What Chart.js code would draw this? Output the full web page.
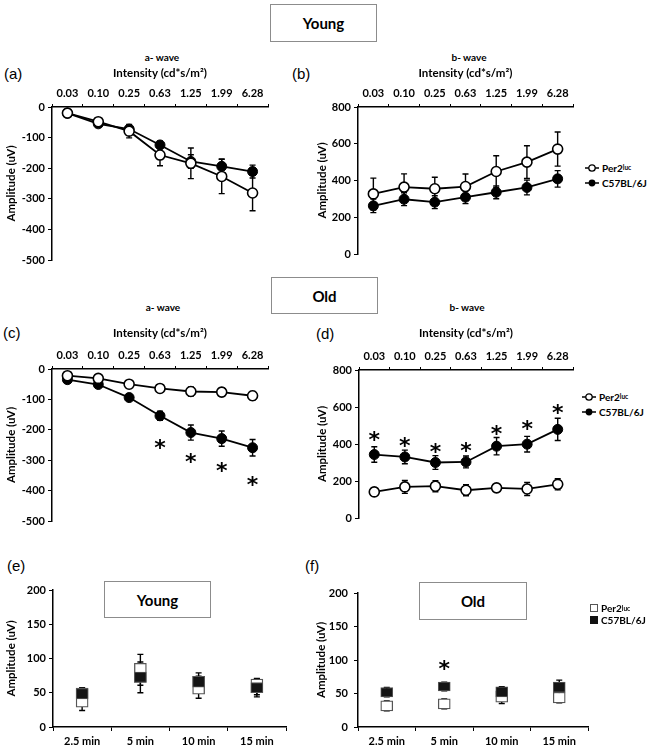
<!DOCTYPE html>
<html>
<head>
<meta charset="utf-8">
<script src="https://cdn.jsdelivr.net/npm/chart.js@4.4.1/dist/chart.umd.min.js"></script>
<style>
body { margin: 0; background: #fff; }
#fig { position: relative; width: 649px; height: 750px; font-family: Lato, sans-serif; color: #000; overflow: hidden; }
canvas { position: absolute; }
.box { position: absolute; border: 1px solid #8c8c8c; background: #fff; display: flex; align-items: center; justify-content: center; font-weight: bold; font-size: 15px; box-sizing: border-box; }
.wave { position: absolute; font-weight: bold; font-size: 10px; transform: translate(-50%, -50%); white-space: nowrap; }
.tag { position: absolute; font-family: 'Liberation Sans', sans-serif; font-size: 15px; transform: translateY(-50%); }
.leg { position: absolute; font-weight: bold; font-size: 10px; }
.leg div { display: flex; align-items: center; height: 15px; white-space: nowrap; }
.leg svg { margin-right: 3px; }
sup { font-size: 6.5px; vertical-align: 4px; }
</style>
</head>
<body>
<div id="fig">
  <div class="box" style="left:270px;top:4px;width:107px;height:38px;">Young</div>
  <div class="box" style="left:271px;top:277px;width:107px;height:37px;">Old</div>

  <div class="wave" style="left:162px;top:57px;">a- wave</div>
  <div class="wave" style="left:469px;top:57px;">b- wave</div>
  <div class="wave" style="left:163px;top:307px;">a- wave</div>
  <div class="wave" style="left:467px;top:307px;">b- wave</div>

  <div class="tag" style="left:4px;top:73px;">(a)</div>
  <div class="tag" style="left:292px;top:73px;">(b)</div>
  <div class="tag" style="left:3px;top:332px;">(c)</div>
  <div class="tag" style="left:316px;top:333px;">(d)</div>
  <div class="tag" style="left:7px;top:565px;">(e)</div>
  <div class="tag" style="left:305px;top:565px;">(f)</div>

  <canvas id="graficoA" width="275" height="210" style="left:0;top:60px;"></canvas>
  <canvas id="graficoB" width="269" height="204" style="left:311px;top:60px;"></canvas>
  <canvas id="graficoC" width="275" height="211" style="left:0;top:320px;"></canvas>
  <canvas id="graficoD" width="269" height="208" style="left:311px;top:320px;"></canvas>
  <canvas id="graficoE" width="294" height="170" style="left:0;top:580px;"></canvas>
  <canvas id="graficoF" width="286" height="170" style="left:310px;top:580px;"></canvas>

  <div class="box" style="left:104px;top:581px;width:107px;height:37px;">Young</div>
  <div class="box" style="left:419px;top:582px;width:108px;height:38px;">Old</div>

  <div class="leg" style="left:585px;top:160px;">
    <div><svg width="14" height="10"><line x1="0" y1="5" x2="14" y2="5" stroke="#000" stroke-width="1.5"/><circle cx="7" cy="5" r="3.2" fill="#fff" stroke="#000" stroke-width="1.3"/></svg>Per2<sup>luc</sup></div>
    <div><svg width="14" height="10"><line x1="0" y1="5" x2="14" y2="5" stroke="#000" stroke-width="1.5"/><circle cx="7" cy="5" r="3.4" fill="#000"/></svg>C57BL/6J</div>
  </div>
  <div class="leg" style="left:582px;top:389px;">
    <div><svg width="14" height="10"><line x1="0" y1="5" x2="14" y2="5" stroke="#000" stroke-width="1.5"/><circle cx="7" cy="5" r="3.2" fill="#fff" stroke="#000" stroke-width="1.3"/></svg>Per2<sup>luc</sup></div>
    <div><svg width="14" height="10"><line x1="0" y1="5" x2="14" y2="5" stroke="#000" stroke-width="1.5"/><circle cx="7" cy="5" r="3.4" fill="#000"/></svg>C57BL/6J</div>
  </div>
  <div class="leg" style="left:590px;top:602px;">
    <div style="height:12px"><svg width="8" height="8"><rect x="0.5" y="0.5" width="7" height="7" fill="#fff" stroke="#555"/></svg>Per2<sup>luc</sup></div>
    <div style="height:12px"><svg width="8" height="8"><rect x="0" y="0" width="8" height="8" fill="#111"/></svg>C57BL/6J</div>
  </div>
</div>

<script>
// ---------- dados ----------
const intensities = ['0.03', '0.10', '0.25', '0.63', '1.25', '1.99', '6.28'];
const times = ['2.5 min', '5 min', '10 min', '15 min'];

// (a) young a-wave
const youngAPer2 = [-20, -48, -79, -157, -184, -227, -281];
const youngAPer2Err = [5, 10, 22, 35, 50, 56, 58];
const youngAC57 = [-20, -55, -72, -124, -178, -194, -211];
const youngAC57Err = [5, 8, 8, 12, 22, 24, 21];

// (b) young b-wave
const youngBPer2 = [327, 364, 355, 367, 449, 500, 571];
const youngBPer2Err = [86, 72, 63, 68, 86, 89, 93];
const youngBC57 = [262, 298, 282, 309, 336, 362, 409];
const youngBC57Err = [37, 35, 35, 35, 35, 40, 45];

// (c) old a-wave
const oldAPer2 = [-22, -31, -50, -64, -74, -76, -88];
const oldAPer2Err = [8, 8, 10, 12, 15, 14, 14];
const oldAC57 = [-35, -51, -94, -154, -209, -229, -259];
const oldAC57Err = [8, 8, 10, 15, 25, 25, 27];
const oldASig = [null, null, null, -239, -285, -316, -362];

// (d) old b-wave
const oldBPer2 = [141, 168, 172, 150, 163, 157, 182];
const oldBPer2Err = [20, 35, 30, 30, 15, 35, 30];
const oldBC57 = [343, 330, 300, 303, 388, 399, 479];
const oldBC57Err = [42, 37, 37, 32, 47, 42, 60];
const oldBSig = [453, 421, 390, 394, 484, 515, 598];

// (e) young recovery (box low/high, whisker low/high)
const youngRecPer2 = [[29, 57], [65, 93], [48, 74], [50, 70]];
const youngRecPer2Whisk = [[24, 57], [50, 106], [42, 74], [44, 71]];
const youngRecC57 = [[41, 56], [65, 80], [58, 74], [50, 65]];
const youngRecC57Whisk = [[41, 57], [61, 95], [55, 79], [47, 70]];

// (f) old recovery
const oldRecPer2 = [[24, 39], [27, 42], [37, 54], [36, 52]];
const oldRecPer2Whisk = [[24, 39], [27, 42], [35, 54], [36, 52]];
const oldRecC57 = [[45, 59], [54, 67], [45, 60], [52, 67]];
const oldRecC57Whisk = [[45, 59], [54, 67], [45, 60], [52, 70]];
const oldRecSig = [null, 95, null, null];

// ---------- plugins ----------
const errorBars = {
    id: 'errorBars',
    beforeDatasetsDraw(chart) {
        const ctx = chart.ctx;
        const y = chart.scales.y;
        chart.data.datasets.forEach((ds, i) => {
            if (!ds.errLow) return;
            const meta = chart.getDatasetMeta(i);
            ctx.save();
            ctx.strokeStyle = '#000';
            ctx.lineWidth = 1.4;
            meta.data.forEach((el, j) => {
                const lo = y.getPixelForValue(ds.errLow[j]);
                const hi = y.getPixelForValue(ds.errHigh[j]);
                ctx.beginPath();
                ctx.moveTo(el.x, lo); ctx.lineTo(el.x, hi);
                ctx.moveTo(el.x - 3, lo); ctx.lineTo(el.x + 3, lo);
                ctx.moveTo(el.x - 3, hi); ctx.lineTo(el.x + 3, hi);
                ctx.stroke();
            });
            ctx.restore();
        });
    }
};

const stars = {
    id: 'stars',
    afterDatasetsDraw(chart, args, opts) {
        if (!opts || !opts.values) return;
        const ctx = chart.ctx;
        ctx.save();
        ctx.font = 'bold 22px "DejaVu Sans"';
        ctx.textAlign = 'center';
        ctx.textBaseline = 'alphabetic';
        ctx.fillStyle = '#000';
        opts.values.forEach((v, i) => {
            if (v == null) return;
            ctx.fillText('*', chart.scales.x.getPixelForValue(i), chart.scales.y.getPixelForValue(v) + 13);
        });
        ctx.restore();
    }
};

Chart.register(errorBars, stars);
Chart.defaults.font.family = 'Lato';
Chart.defaults.color = '#000';
Chart.defaults.animation = false;

const bold11 = { family: 'Lato', weight: 'bold', size: 11 };
const bold115 = { family: 'Lato', weight: 'bold', size: 11.5 };

function yAxis(min, max, step, width, pad) {
    return {
        min: min, max: max,
        ticks: { stepSize: step, padding: pad, font: bold11 },
        grid: { display: true, drawOnChartArea: false, drawTicks: true, tickLength: 4, color: '#000' },
        border: { color: '#000', width: 1.5 },
        title: { display: true, text: 'Amplitude (uV)', font: bold115, padding: { top: 4, bottom: 0 } },
        afterFit(s) { s.width = width; }
    };
}

function linePanel(id, per2, per2Err, c57, c57Err, min, max, step, yW, xH, sig) {
    const ctx = document.getElementById(id).getContext('2d');
    return new Chart(ctx, {
        type: 'line',
        data: {
            labels: intensities,
            datasets: [
                {
                    label: 'Per2luc', data: per2,
                    errLow: per2.map((v, i) => v - per2Err[i]), errHigh: per2.map((v, i) => v + per2Err[i]),
                    borderColor: '#000', borderWidth: 1.8, tension: 0,
                    pointRadius: 5, pointBorderWidth: 1.6, pointBackgroundColor: '#fff', pointBorderColor: '#000'
                },
                {
                    label: 'C57BL/6J', data: c57,
                    errLow: c57.map((v, i) => v - c57Err[i]), errHigh: c57.map((v, i) => v + c57Err[i]),
                    borderColor: '#000', borderWidth: 1.8, tension: 0,
                    pointRadius: 5, pointBorderWidth: 1, pointBackgroundColor: '#000', pointBorderColor: '#000'
                }
            ]
        },
        options: {
            responsive: false,
            events: [],
            layout: { padding: { right: 7, bottom: 10, top: 0, left: 0 } },
            plugins: { legend: { display: false }, tooltip: { enabled: false }, stars: { values: sig } },
            scales: {
                x: {
                    position: 'top', offset: true,
                    ticks: { padding: 4, font: bold11, maxRotation: 0 },
                    grid: { display: true, drawOnChartArea: false, drawTicks: true, tickLength: 3, offset: true, color: '#000' },
                    border: { color: '#000', width: 1.5 },
                    title: { display: true, text: 'Intensity (cd*s/m²)', font: bold115, padding: { top: 6, bottom: 0 } },
                    afterFit(s) { s.height = xH; }
                },
                y: yAxis(min, max, step, yW, 3)
            }
        }
    });
}

function recoveryPanel(id, per2, per2W, c57, c57W, yW, padTop, tickPad, sig) {
    const ctx = document.getElementById(id).getContext('2d');
    return new Chart(ctx, {
        type: 'bar',
        data: {
            labels: times,
            datasets: [
                {
                    label: 'C57BL/6J', data: c57, order: 0, grouped: false,
                    errLow: c57W.map(w => w[0]), errHigh: c57W.map(w => w[1]),
                    backgroundColor: '#141414', borderColor: '#555', borderWidth: 1, borderSkipped: false,
                    barThickness: 12
                },
                {
                    label: 'Per2luc', data: per2, order: 1, grouped: false,
                    errLow: per2W.map(w => w[0]), errHigh: per2W.map(w => w[1]),
                    backgroundColor: '#fff', borderColor: '#555', borderWidth: 1.3, borderSkipped: false,
                    barThickness: 12
                }
            ]
        },
        options: {
            responsive: false,
            events: [],
            layout: { padding: { top: padTop, right: 8, bottom: 0, left: 0 } },
            plugins: { legend: { display: false }, tooltip: { enabled: false }, stars: { values: sig } },
            scales: {
                x: {
                    ticks: { padding: 4, font: bold11, maxRotation: 0 },
                    grid: { display: true, drawOnChartArea: false, drawTicks: true, tickLength: 4, offset: true, color: '#000' },
                    border: { color: '#000', width: 1.5 },
                    afterFit(s) { s.height = 23; }
                },
                y: yAxis(0, 200, 50, yW, tickPad)
            }
        }
    });
}

// Inicializa
linePanel('graficoA', youngAPer2, youngAPer2Err, youngAC57, youngAC57Err, -500, 0, 100, 52, 47, null);
linePanel('graficoB', youngBPer2, youngBPer2Err, youngBC57, youngBC57Err, 0, 800, 200, 47, 47, null);
linePanel('graficoC', oldAPer2, oldAPer2Err, oldAC57, oldAC57Err, -500, 0, 100, 52, 49, oldASig);
linePanel('graficoD', oldBPer2, oldBPer2Err, oldBC57, oldBC57Err, 0, 800, 200, 48, 50, oldBSig);
recoveryPanel('graficoE', youngRecPer2, youngRecPer2Whisk, youngRecC57, youngRecC57Whisk, 53, 10, 3, null);
recoveryPanel('graficoF', oldRecPer2, oldRecPer2Whisk, oldRecC57, oldRecC57Whisk, 48, 13, 6, oldRecSig);
</script>
</body>
</html>
